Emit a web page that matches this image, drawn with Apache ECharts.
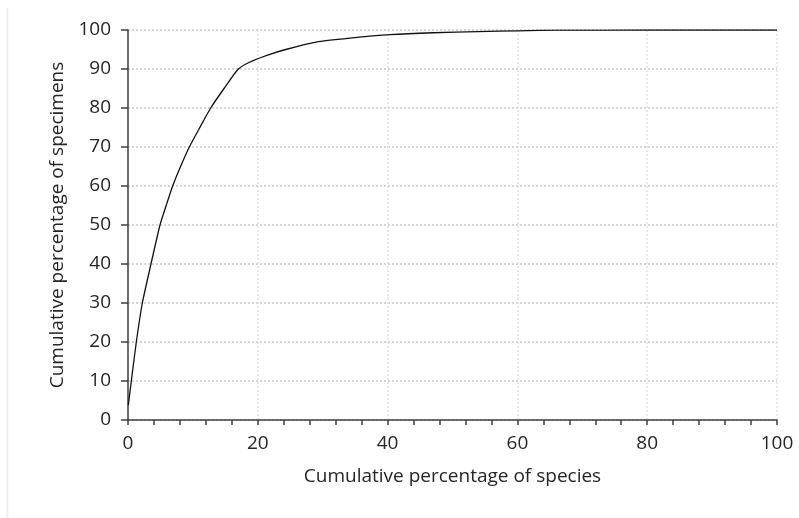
<!DOCTYPE html>
<html>
<head>
<meta charset="utf-8">
<script src="https://cdn.jsdelivr.net/npm/echarts@6/dist/echarts.min.js"></script>
<style>html,body{margin:0;padding:0;background:#fff;}#c{width:799px;height:518px;}</style>
</head>
<body>
<div id="c"></div>
<script>
const speciesPct = [0.05, 0.51, 1.28, 2.21, 3.54, 4.93, 6.0, 6.88, 8.1, 9.45, 11.0, 12.74, 14.8, 17.0, 18.8, 21.4, 24.3, 29, 34.2, 40.4, 47, 54, 60, 66.7, 80, 100];
const specimenPct = [3.8, 10, 20, 30, 40, 50, 55.6, 60, 65, 70, 74.8, 80, 85, 90, 91.8, 93.5, 95, 96.9, 97.9, 98.8, 99.3, 99.6, 99.8, 99.95, 100, 100];
const xTitle = 'Cumulative percentage of species';
const yTitle = 'Cumulative percentage of specimens';

const chart = echarts.init(document.getElementById('c'), null, {renderer: 'canvas'});
chart.setOption({
  animation: false,
  backgroundColor: '#fff',
  graphic: [{
    type: 'line', shape: {x1: 7.5, y1: 8, x2: 7.5, y2: 518},
    style: {stroke: '#ebebeb', lineWidth: 1.5}, silent: true
  }],
  grid: {left: 128, right: 22, top: 30, bottom: 98, containLabel: false},
  xAxis: {
    type: 'value', min: 0, max: 100, interval: 20,
    name: xTitle, nameLocation: 'middle', nameGap: 47,
    nameTextStyle: {fontFamily: 'Open Sans', fontSize: 19, color: '#262626'},
    axisLine: {lineStyle: {color: '#404040', width: 1.5}},
    axisTick: {show: true, length: 5, lineStyle: {color: '#404040', width: 1.5}},
    minorTick: {show: true, splitNumber: 5, length: 5, lineStyle: {color: '#404040', width: 1.5}},
    axisLabel: {margin: 14, fontFamily: 'Open Sans', fontSize: 19, color: '#262626'},
    splitLine: {show: true, lineStyle: {color: '#e2e2e2', type: [2, 2], width: 1.5}}
  },
  yAxis: {
    type: 'value', min: 0, max: 100, interval: 10,
    name: yTitle, nameLocation: 'middle', nameGap: 46, nameRotate: 90,
    nameTextStyle: {fontFamily: 'Open Sans', fontSize: 19, color: '#262626'},
    axisLine: {show: true, lineStyle: {color: '#404040', width: 1.5}},
    axisTick: {show: true, length: 7, lineStyle: {color: '#404040', width: 1.5}},
    axisLabel: {margin: 17, fontFamily: 'Open Sans', fontSize: 19, color: '#262626'},
    splitLine: {show: true, lineStyle: {color: '#c8c8c8', type: [2, 2], width: 1.5}}
  },
  series: [{
    type: 'line',
    data: speciesPct.map((x, i) => [x, specimenPct[i]]),
    showSymbol: false,
    smooth: 0.2,
    lineStyle: {color: '#111', width: 1.3}
  }]
});
</script>
</body>
</html>
